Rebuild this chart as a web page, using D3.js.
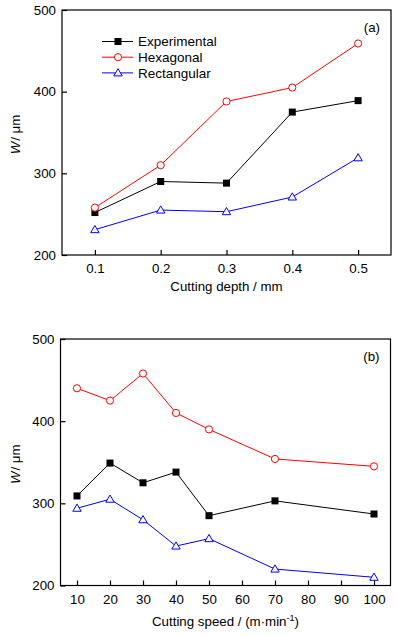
<!DOCTYPE html>
<html>
<head>
<meta charset="utf-8">
<script src="https://cdn.jsdelivr.net/npm/d3@7"></script>
<style>
  body { margin: 0; background: #fff; }
  svg text { font-family: Arial, "Liberation Sans", sans-serif; fill: #000; }
</style>
</head>
<body>
<div id="chart"></div>
<script>
// panel (a): cutting depth
var depth = [0.1, 0.2, 0.3, 0.4, 0.5];
var depthExp = [252, 290, 288, 375, 389];
var depthHex = [258, 310, 388, 405, 459];
var depthRect = [231, 255, 253, 271, 319];
var depthTicks = [0.1, 0.2, 0.3, 0.4, 0.5];

// panel (b): cutting speed
var speed = [10, 20, 30, 40, 50, 70, 100];
var speedExp = [309, 349, 325, 338, 285, 303, 287];
var speedHex = [440, 425, 458, 410, 390, 354, 345];
var speedRect = [294, 305, 280, 248, 257, 220, 210];
var speedTicks = [10, 20, 30, 40, 50, 60, 70, 80, 90, 100];

var wTicks = [200, 300, 400, 500];
var seriesNames = ["Experimental", "Hexagonal", "Rectangular"];
var colors = ["#000000", "#ff0000", "#0000ff"];

var svg = d3.select("#chart").append("svg")
    .attr("width", 397)
    .attr("height", 636);

function marker(g, type, x, y, color) {
    if (type == 0) {
        g.append("rect")
            .attr("x", x - 3.5).attr("y", y - 3.5)
            .attr("width", 7).attr("height", 7)
            .attr("fill", color);
    } else if (type == 1) {
        g.append("circle")
            .attr("cx", x).attr("cy", y).attr("r", 3.6)
            .attr("fill", "#fff").attr("stroke", color).attr("stroke-width", 1);
    } else {
        g.append("path")
            .attr("d", "M" + x + "," + (y - 4.2) + "L" + (x + 4.2) + "," + (y + 3) + "L" + (x - 4.2) + "," + (y + 3) + "Z")
            .attr("fill", "#fff").attr("stroke", color).attr("stroke-width", 1);
    }
}

function drawPanel(box, xs, series, xDomain, xTicks, xFmt, tag) {
    var x = d3.scaleLinear().domain(xDomain).range([box.left, box.right]);
    var y = d3.scaleLinear().domain([200, 500]).range([box.bottom, box.top]);
    var g = svg.append("g");

    // series lines + markers
    series.forEach(function(vals, s) {
        var line = d3.line()
            .x(function(d, i) { return x(xs[i]); })
            .y(function(d) { return y(d); });
        g.append("path")
            .datum(vals)
            .attr("d", line)
            .attr("fill", "none")
            .attr("stroke", colors[s])
            .attr("stroke-width", 1);
        vals.forEach(function(v, i) {
            marker(g, s, x(xs[i]), y(v), colors[s]);
        });
    });

    // frame
    g.append("rect")
        .attr("x", box.left).attr("y", box.top)
        .attr("width", box.right - box.left)
        .attr("height", box.bottom - box.top)
        .attr("fill", "none").attr("stroke", "#000").attr("stroke-width", 1.2);

    var xAxis = d3.axisBottom(x).tickValues(xTicks).tickFormat(xFmt)
        .tickSizeInner(-5).tickSizeOuter(0).tickPadding(9);
    var gx = g.append("g")
        .attr("transform", "translate(0," + box.bottom + ")")
        .call(xAxis);
    gx.select(".domain").remove();
    gx.selectAll("text").attr("font-size", 13.3);

    var yAxis = d3.axisLeft(y).tickValues(wTicks)
        .tickSizeInner(-5).tickSizeOuter(0).tickPadding(6);
    var gy = g.append("g")
        .attr("transform", "translate(" + box.left + ",0)")
        .call(yAxis);
    gy.select(".domain").remove();
    gy.selectAll("text").attr("font-size", 13.3);
    gy.selectAll("line").attr("stroke-width", 1.2);
    gx.selectAll("line").attr("stroke-width", 1.2);

    // tag
    g.append("text")
        .attr("x", box.right - 11).attr("y", box.top + 22)
        .attr("text-anchor", "end")
        .attr("font-size", 13.3)
        .text(tag);

    // y title
    var yt = g.append("text")
        .attr("transform", "translate(20," + ((box.top + box.bottom) / 2 + 2) + ") rotate(-90)")
        .attr("text-anchor", "middle")
        .attr("font-size", 13.3);
    yt.append("tspan").attr("font-style", "italic").text("W");
    yt.append("tspan").attr("dx", 1).text("/ μm");

    return { x: x, y: y, g: g };
}

var a = drawPanel({ left: 62, right: 391, top: 10, bottom: 255 },
    depth, [depthExp, depthHex, depthRect], [0.05, 0.55], depthTicks, d3.format(".1f"), "(a)");
a.g.append("text")
    .attr("x", (62 + 391) / 2).attr("y", 291)
    .attr("text-anchor", "middle").attr("font-size", 13.3)
    .text("Cutting depth / mm");

// legend in panel (a)
seriesNames.forEach(function(name, i) {
    var ly = 41.5 + i * 15.7;
    a.g.append("line")
        .attr("x1", 102).attr("x2", 133)
        .attr("y1", ly).attr("y2", ly)
        .attr("stroke", colors[i]).attr("stroke-width", 1);
    marker(a.g, i, 118, ly, colors[i]);
    a.g.append("text")
        .attr("x", 138).attr("y", ly + 4.7)
        .attr("font-size", 13.5)
        .text(name);
});

var b = drawPanel({ left: 60.5, right: 390.5, top: 339, bottom: 585.5 },
    speed, [speedExp, speedHex, speedRect], [5, 105], speedTicks, d3.format("d"), "(b)");
var bt = b.g.append("text")
    .attr("x", (60.5 + 390.5) / 2).attr("y", 626)
    .attr("text-anchor", "middle").attr("font-size", 13.3);
bt.append("tspan").text("Cutting speed / (m·min");
bt.append("tspan").attr("font-size", 9).attr("dy", -5).text("-1");
bt.append("tspan").attr("dy", 5).text(")");
</script>
</body>
</html>
